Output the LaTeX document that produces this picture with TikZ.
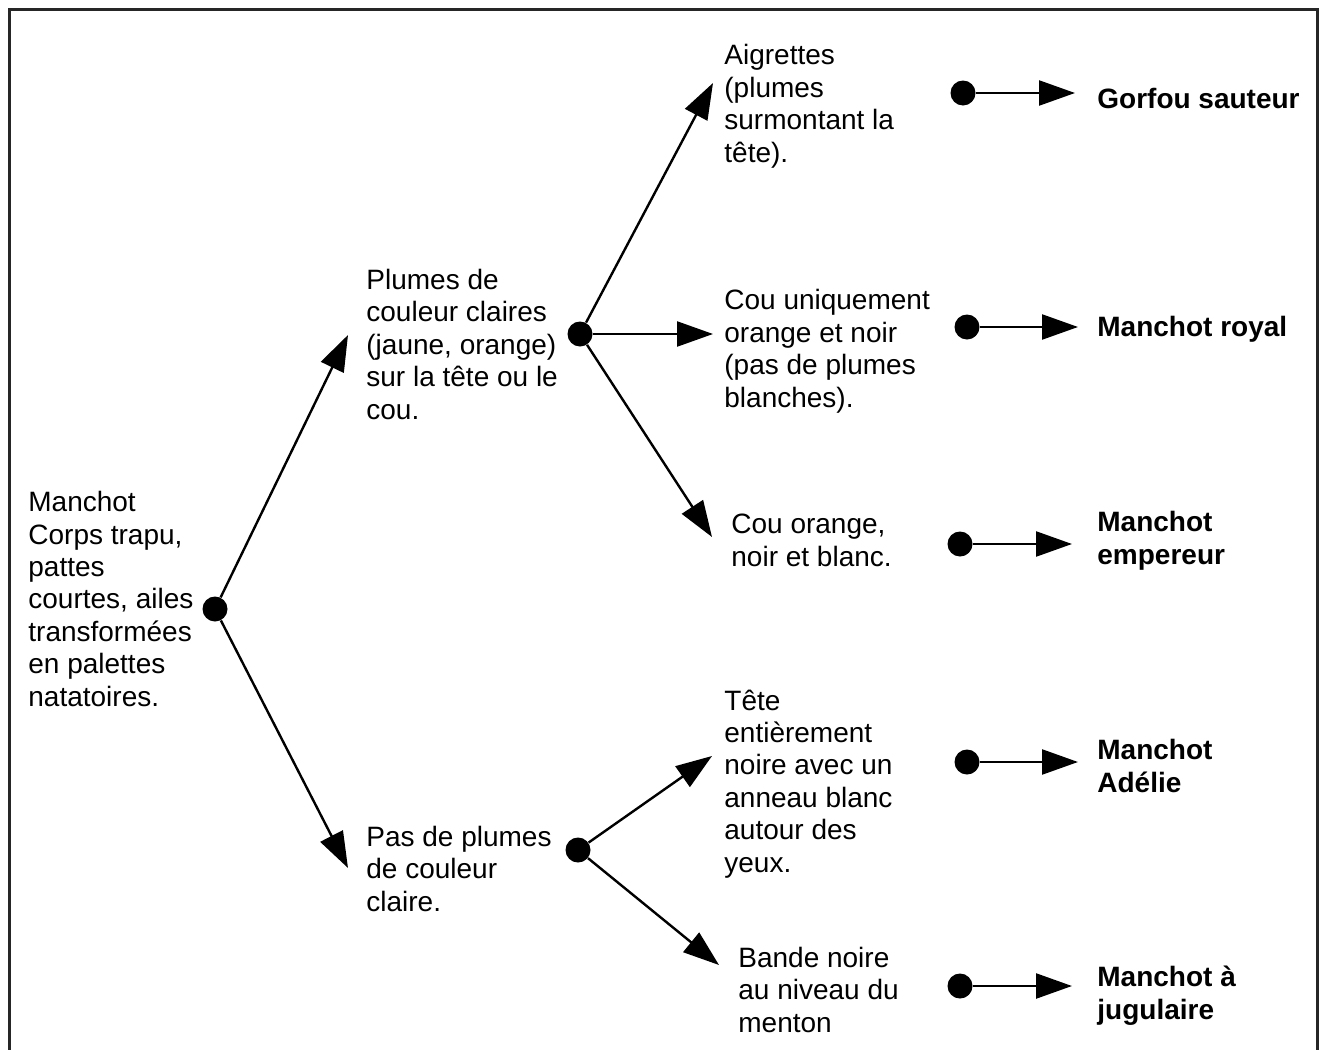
\documentclass[tikz,border=0pt]{standalone}
\usepackage{fontspec}
\setmainfont{Liberation Sans}
\usetikzlibrary{arrows.meta}
\begin{document}
\begin{tikzpicture}[x=0.5pt,y=-0.5pt,
  dot/.style={circle,fill=black,inner sep=0pt,minimum size=12.5pt},
  arr/.style={line width=1.2pt,-{Triangle[length=18pt,width=12.5pt]}},
  txt/.style={anchor=base west,align=left,inner sep=0pt,font=\fontsize{14}{16.17}\selectfont},
  res/.style={txt,font=\fontsize{14}{16.17}\selectfont\bfseries}]
\useasboundingbox (0,0) rectangle (1319,1050);
\draw[line width=1.5pt,black!85] (9,1052) -- (9,9) -- (1317,9) -- (1317,1052);

% texts (anchored at the baseline of their last line)
\node[txt] (root) at (28,706) {Manchot\\Corps trapu,\\pattes\\courtes, ailes\\transformées\\en palettes\\natatoires.};
\node[txt] (plumes) at (366,419) {Plumes de\\couleur claires\\(jaune, orange)\\sur la tête ou le\\cou.};
\node[txt] (pas) at (366,911) {Pas de plumes\\de couleur\\claire.};
\node[txt] (aig) at (724,162) {Aigrettes\\(plumes\\surmontant la\\tête).};
\node[txt] (couu) at (724,407) {Cou uniquement\\orange et noir\\(pas de plumes\\blanches).};
\node[txt] (couo) at (731,566) {Cou orange,\\noir et blanc.};
\node[txt] (tete) at (724,872) {Tête\\entièrement\\noire avec un\\anneau blanc\\autour des\\yeux.};
\node[txt] (bande) at (738,1032) {Bande noire\\au niveau du\\menton};

\node[res] (gorfou) at (1097,108) {Gorfou sauteur};
\node[res] (royal) at (1097,336) {Manchot royal};
\node[res] (emp) at (1097,564) {Manchot\\empereur};
\node[res] (adelie) at (1097,792) {Manchot\\Adélie};
\node[res] (jug) at (1097,1019) {Manchot à\\jugulaire};

% dots
\node[dot] (d0) at (215,609) {};
\node[dot] (d1) at (580,334) {};
\node[dot] (d2) at (578,850) {};

% tips
\coordinate (t01) at (348,335);
\coordinate (t02) at (348,868);
\coordinate (t11) at (713,83);
\coordinate (t12) at (713,334);
\coordinate (t13) at (712,537);
\coordinate (t21) at (712,756);
\coordinate (t22) at (719,965);

\draw[arr] (d0) -- (t01);
\draw[arr] (d0) -- (t02);
\draw[arr] (d1) -- (t11);
\draw[arr] (d1) -- (t12);
\draw[arr] (d1) -- (t13);
\draw[arr] (d2) -- (t21);
\draw[arr] (d2) -- (t22);

% result arrows
\node[dot] (r1) at (963,93) {};
\node[dot] (r2) at (967,327) {};
\node[dot] (r3) at (960,544) {};
\node[dot] (r4) at (967,762) {};
\node[dot] (r5) at (960,986) {};
\coordinate (e1) at (1075,93);
\coordinate (e2) at (1078,327);
\coordinate (e3) at (1072,544);
\coordinate (e4) at (1078,762);
\coordinate (e5) at (1072,986);
\draw[arr] (r1) -- (e1);
\draw[arr] (r2) -- (e2);
\draw[arr] (r3) -- (e3);
\draw[arr] (r4) -- (e4);
\draw[arr] (r5) -- (e5);
\end{tikzpicture}
\end{document}
